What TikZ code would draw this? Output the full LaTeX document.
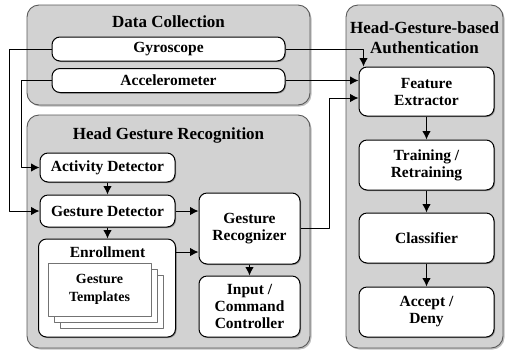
\documentclass[tikz,border=0pt]{standalone}
\usepackage{fontspec}
\setmainfont{Liberation Serif}
\usetikzlibrary{shadows,arrows.meta}
\begin{document}
\begin{tikzpicture}[x=1pt,y=-1pt,>={Latex[length=8.5pt,width=8.5pt]}, font=\bfseries\fontsize{15.5}{17}\selectfont, line join=round,
	group/.style={draw=black!65, line width=0.9pt, fill=gray!35, rounded corners=12pt, inner sep=0pt,
		drop shadow={shadow xshift=1.5pt, shadow yshift=-1.5pt, fill=black!25, opacity=1}},
	blk/.style={draw, line width=1pt, fill=white, rounded corners=8pt, align=center, inner sep=0pt,
		drop shadow={shadow xshift=1pt, shadow yshift=-1pt, fill=black!45, opacity=1}},
	sheet/.style={draw=black!55, line width=0.6pt, fill=white, inner sep=0pt, minimum width=103, minimum height=53},
	title/.style={font=\bfseries\fontsize{17}{20}\selectfont, align=center}]
	\useasboundingbox (0,0) rectangle (505,349);
	%\draw[color=gray!50,dashed] (0,0) grid[step=20] (505,349);
	% groups
	\node[group, minimum width=283, minimum height=100] (dc) at (168.5,55) {};
	\node[group, minimum width=283, minimum height=233] (hgr) at (168.5,231.5) {};
	\node[group, minimum width=157, minimum height=343] (auth) at (424.5,176.5) {};
	\node[title] (dctitle) at (168.5,22) {Data Collection};
	\node[title] (hgrtitle) at (168.5,135) {Head Gesture Recognition};
	\node[title] (authtitle) at (424.5,37.5) {Head-Gesture-based\\Authentication};
	% data collection
	\node[blk, minimum width=233, minimum height=24] (gyro) at (168.5,49) {Gyroscope};
	\node[blk, minimum width=233, minimum height=24] (acc) at (168.5,80.5) {Accelerometer};
	% head gesture recognition
	\node[blk, minimum width=135, minimum height=29] (ad) at (107.5,167.5) {Activity Detector};
	\node[blk, minimum width=135, minimum height=32] (gd) at (107.5,211) {Gesture Detector};
	\node[blk, minimum width=137, minimum height=98] (enr) at (107,288) {};
	\node (enrtxt) at (107.5,252) {Enrollment};
	\foreach \d in {12,6}
		\node[sheet] at (99.5+\d,289.5+\d) {};
	\node[sheet, align=center, font=\bfseries\fontsize{14}{18}\selectfont] (tpl) at (99.5,289.5) {Gesture\\Templates};
	\node[blk, minimum width=101, minimum height=71] (gr) at (249.5,228.5) {Gesture\\Recognizer};
	\node[blk, minimum width=101, minimum height=61] (io) at (249.5,306.5) {Input /\\Command\\Controller};
	% authentication
	\node[blk, minimum width=135, minimum height=49] (fe) at (426.5,91.5) {Feature\\Extractor};
	\node[blk, minimum width=135, minimum height=50] (tr) at (426.5,165) {Training /\\Retraining};
	\node[blk, minimum width=135, minimum height=50] (cl) at (426.5,238) {Classifier};
	\node[blk, minimum width=135, minimum height=50] (ok) at (426.5,312) {Accept /\\Deny};
	% connectors
	\begin{scope}[line width=1pt]
		\draw[->] (gyro.east) -| ([xshift=5pt]fe.north west);
		\draw[->] (acc.east) -- (acc.east -| fe.west);
		\draw[->] (gr.east) -- ++(29,0) |- ([yshift=-6.5pt]fe.west);
		\draw[->] (gyro.west) -- ++(-42,0) |- (gd.west);
		\draw[->] (acc.west) -- ++(-30,0) |- (ad.west);
		\draw[->] (ad) -- (gd);
		\draw[->] (gd) -- (gd.south |- enr.north);
		\draw[->] (gd.east) -- (gd.east -| gr.west);
		\draw[->] ([yshift=36pt]enr.east) -- ([yshift=36pt]enr.east -| gr.west);
		\draw[->] (gr) -- (io);
		\draw[->] (fe) -- (tr);
		\draw[->] (tr) -- (cl);
		\draw[->] (cl) -- (ok);
	\end{scope}
\end{tikzpicture}
\end{document}
